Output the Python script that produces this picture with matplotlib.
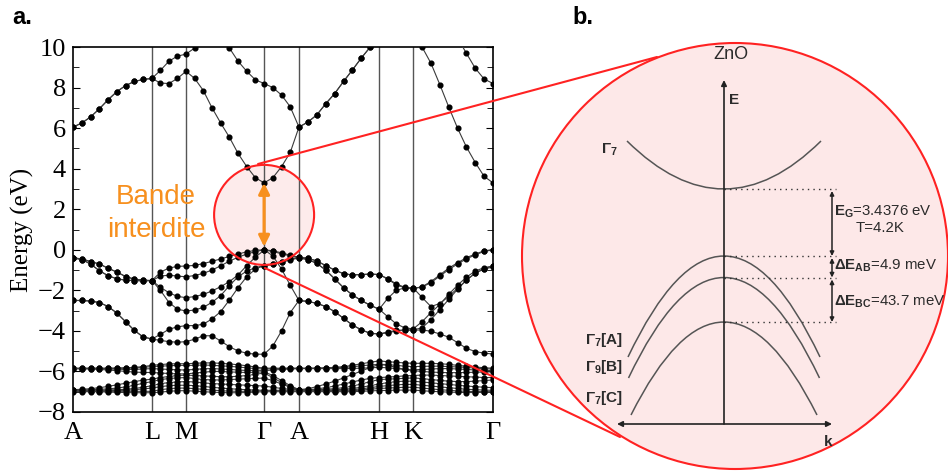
import numpy as np
import matplotlib
matplotlib.use("Agg")
import matplotlib.pyplot as plt
from matplotlib.patches import Ellipse, Circle, PathPatch, ConnectionPatch
from matplotlib.path import Path

plt.rcParams['font.family'] = 'Liberation Serif'
plt.rcParams['mathtext.fontset'] = 'custom'
plt.rcParams['mathtext.rm'] = 'Liberation Sans'
plt.rcParams['mathtext.bf'] = 'Liberation Sans:bold'
plt.rcParams['mathtext.it'] = 'Liberation Sans:italic'

nan = np.nan

# ---- panel a: high symmetry path ----
sym_labels = ['A', 'L', 'M', 'Γ', 'A', 'H', 'K', 'Γ']
sym_k = [0.0, 0.188, 0.269, 0.455, 0.538, 0.729, 0.810, 1.0]
seg_steps = [9, 4, 9, 4, 9, 4, 9]   # k samples per segment

# band energies (eV) along the path, one value per k sample
# segments: A-L | L-M | M-G | G-A | A-H | H-K | K-G
cb1 = [6.05, 6.25, 6.55, 6.95, 7.40, 7.80, 8.10, 8.30, 8.40, 8.45,
       8.22, 8.20, 8.45, 8.80,
       8.45, 7.85, 7.00, 6.25, 5.55, 4.75, 4.10, 3.55, 3.30,
       3.55, 4.10, 4.80, 6.05,
       6.30, 6.65, 7.20, 7.70, 8.30, 8.87, 9.46, 10.00, 10.60,
       nan, nan, nan, 10.90,
       10.00, 9.20, 8.15, 7.05, 6.00, 5.07, 4.30, 3.62, 3.30]
cb2 = [6.05, 6.25, 6.55, 6.95, 7.40, 7.80, 8.10, 8.30, 8.40, 8.45,
       8.85, 9.30, 9.55, 9.65,
       9.95, 10.30, nan, nan, nan, nan, nan, nan, nan,
       nan, nan, nan, nan,
       nan, nan, nan, nan, nan, nan, nan, nan, nan,
       nan, nan, nan, nan,
       nan, nan, nan, nan, nan, nan, nan, nan, nan]
cb3 = [nan, nan, nan, nan, nan, nan, nan, nan, nan, nan,
       nan, nan, nan, nan,
       nan, nan, nan, 10.40, 9.95, 9.30, 8.80, 8.38, 8.20,
       8.00, 7.63, 7.05, 6.05,
       6.30, 6.65, 7.20, 7.70, 8.30, 8.87, 9.46, 10.00, 10.60,
       nan, nan, nan, nan,
       nan, nan, nan, 10.80, 10.45, 9.69, 8.95, 8.42, 8.20]

vb1 = [-0.40, -0.45, -0.58, -0.70, -0.91, -1.10, -1.32, -1.45, -1.50, -1.52,
       -1.10, -0.90, -0.82, -0.80,
       -0.77, -0.68, -0.57, -0.45, -0.33, -0.21, -0.10, -0.03, 0.00,
       -0.05, -0.15, -0.27, -0.37,
       -0.42, -0.55, -0.78, -1.00, -1.18, -1.24, -1.22, -1.20, -1.22,
       -1.45, -1.72, -1.88, -1.92,
       -1.82, -1.57, -1.24, -0.91, -0.64, -0.39, -0.21, -0.05, 0.00]
vb2 = [-0.40, -0.45, -0.58, -0.70, -0.91, -1.10, -1.32, -1.45, -1.50, -1.52,
       -1.30, -1.25, -1.30, -1.33,
       -1.27, -1.16, -1.00, -0.79, -0.56, -0.37, -0.21, -0.09, 0.00,
       -0.30, -0.95, -1.75, -2.50,
       -2.55, -2.64, -2.80, -3.05, -3.38, -3.71, -3.95, -4.12, -4.15,
       -4.10, -4.00, -3.95, -3.95,
       -3.85, -3.45, -2.95, -2.45, -1.95, -1.50, -1.15, -0.95, -0.85]
vb3 = [-0.40, -0.48, -0.70, -1.03, -1.28, -1.43, -1.50, -1.52, -1.53, -1.52,
       -1.85, -2.12, -2.30, -2.36,
       -2.31, -2.20, -2.03, -1.82, -1.57, -1.24, -0.78, -0.36, -0.02,
       -0.08, -0.20, -0.30, -0.40,
       -0.48, -0.67, -1.00, -1.43, -1.87, -2.23, -2.50, -2.74, -2.93,
       -2.40, -2.00, -1.88, -1.88,
       -2.35, -2.80, -2.65, -2.30, -1.90, -1.50, -1.15, -0.93, -0.80]
vb4 = [-0.40, -0.48, -0.70, -1.03, -1.28, -1.43, -1.50, -1.52, -1.53, -1.52,
       -2.00, -2.60, -2.93, -3.02,
       -2.97, -2.84, -2.59, -2.26, -1.77, -1.33, -1.05, -0.88, -0.78,
       -0.72, -0.62, -0.50, -0.40,
       -0.48, -0.67, -1.00, -1.43, -1.87, -2.23, -2.50, -2.74, -2.93,
       -3.30, -3.65, -3.85, -3.90,
       -3.55, -3.10, -2.70, -2.20, -1.75, -1.35, -1.05, -0.88, -0.80]
vb5 = [-2.50, -2.50, -2.53, -2.60, -2.80, -3.12, -3.55, -3.98, -4.30, -4.40,
       -4.17, -3.92, -3.80, -3.74,
       -3.74, -3.67, -3.41, -3.05, -2.48, -1.87, -1.33, -0.95, -0.78,
       -0.70, -0.58, -0.47, -0.37,
       -0.42, -0.55, -0.78, -1.00, -1.18, -1.24, -1.22, -1.20, -1.22,
       -1.42, -1.68, -1.85, -1.90,
       -1.84, -1.62, -1.30, -0.98, -0.70, -0.45, -0.25, -0.08, 0.00]
vb6 = [-2.50, -2.50, -2.53, -2.60, -2.80, -3.12, -3.55, -3.98, -4.30, -4.40,
       -4.47, -4.53, -4.56, -4.53,
       -4.41, -4.24, -4.24, -4.50, -4.78, -4.99, -5.10, -5.15, -5.15,
       -4.75, -4.00, -3.10, -2.50,
       -2.55, -2.64, -2.80, -3.05, -3.38, -3.71, -3.95, -4.12, -4.15,
       -4.05, -3.98, -3.96, -3.97,
       -3.95, -4.02, -4.15, -4.31, -4.58, -4.86, -5.02, -5.10, -5.14]

# Zn 3d bands
d1 = [-5.84, -5.84, -5.84, -5.84, -5.84, -5.83, -5.82, -5.80, -5.76, -5.70,
      -5.66, -5.63, -5.62, -5.62,
      -5.60, -5.58, -5.58, -5.60, -5.63, -5.67, -5.72, -5.78, -5.84,
      -5.84, -5.84, -5.84, -5.84,
      -5.84, -5.83, -5.82, -5.80, -5.76, -5.70, -5.62, -5.55, -5.48,
      -5.52, -5.55, -5.58, -5.60,
      -5.60, -5.60, -5.62, -5.65, -5.70, -5.74, -5.78, -5.82, -5.84]
d2 = [-5.85, -5.85, -5.85, -5.85, -5.85, -5.85, -5.84, -5.83, -5.80, -5.76,
      -5.74, -5.72, -5.70, -5.70,
      -5.70, -5.68, -5.70, -5.72, -5.75, -5.78, -5.82, -5.86, -5.88,
      -5.87, -5.86, -5.85, -5.85,
      -5.85, -5.85, -5.84, -5.83, -5.80, -5.77, -5.72, -5.68, -5.65,
      -5.66, -5.70, -5.74, -5.76,
      -5.75, -5.74, -5.74, -5.76, -5.78, -5.80, -5.84, -5.87, -5.88]
d3 = [-5.86, -5.86, -5.86, -5.87, -5.88, -5.89, -5.90, -5.90, -5.88, -5.86,
      -5.88, -5.90, -5.92, -5.93,
      -5.90, -5.87, -5.86, -5.88, -5.90, -5.93, -5.95, -5.96, -5.96,
      -5.93, -5.90, -5.88, -5.86,
      -5.86, -5.86, -5.86, -5.86, -5.86, -5.85, -5.84, -5.82, -5.80,
      -5.82, -5.86, -5.90, -5.92,
      -5.90, -5.88, -5.86, -5.86, -5.88, -5.90, -5.93, -5.95, -5.96]
d4 = [-5.87, -5.87, -5.88, -5.90, -5.93, -5.96, -6.00, -6.03, -6.05, -6.05,
      -6.08, -6.10, -6.12, -6.12,
      -6.08, -6.04, -6.00, -6.00, -6.02, -6.04, -6.05, -6.04, -6.02,
      -6.20, -6.45, -6.70, -6.90,
      -6.85, -6.75, -6.62, -6.48, -6.32, -6.15, -5.98, -5.80, -5.66,
      -5.70, -5.80, -5.90, -5.96,
      -6.00, -6.03, -6.05, -6.06, -6.06, -6.05, -6.04, -6.03, -6.02]
d5 = [-6.90, -6.88, -6.85, -6.80, -6.74, -6.66, -6.58, -6.50, -6.43, -6.38,
      -6.30, -6.25, -6.20, -6.18,
      -6.20, -6.22, -6.24, -6.26, -6.26, -6.24, -6.20, -6.14, -6.08,
      -6.30, -6.55, -6.75, -6.90,
      -6.90, -6.86, -6.80, -6.72, -6.62, -6.52, -6.42, -6.34, -6.30,
      -6.28, -6.25, -6.22, -6.20,
      -6.18, -6.18, -6.20, -6.22, -6.24, -6.26, -6.28, -6.30, -6.30]
d6 = [-6.92, -6.92, -6.90, -6.88, -6.86, -6.82, -6.76, -6.68, -6.58, -6.50,
      -6.40, -6.35, -6.32, -6.30,
      -6.35, -6.40, -6.42, -6.42, -6.40, -6.38, -6.36, -6.34, -6.33,
      -6.45, -6.62, -6.78, -6.90,
      -6.90, -6.90, -6.88, -6.85, -6.80, -6.72, -6.62, -6.50, -6.40,
      -6.38, -6.36, -6.34, -6.32,
      -6.35, -6.40, -6.44, -6.48, -6.50, -6.50, -6.48, -6.45, -6.42]
d7 = [-6.92, -6.92, -6.92, -6.92, -6.91, -6.90, -6.88, -6.84, -6.78, -6.70,
      -6.60, -6.55, -6.52, -6.50,
      -6.52, -6.56, -6.60, -6.62, -6.64, -6.66, -6.68, -6.70, -6.72,
      -6.78, -6.84, -6.88, -6.90,
      -6.92, -6.92, -6.92, -6.90, -6.88, -6.84, -6.78, -6.70, -6.62,
      -6.55, -6.50, -6.48, -6.48,
      -6.52, -6.56, -6.60, -6.64, -6.68, -6.72, -6.75, -6.78, -6.80]
d8 = [-6.95, -6.95, -6.95, -6.95, -6.95, -6.94, -6.93, -6.90, -6.86, -6.82,
      -6.75, -6.70, -6.68, -6.68,
      -6.70, -6.74, -6.78, -6.82, -6.85, -6.88, -6.90, -6.92, -6.93,
      -6.93, -6.93, -6.92, -6.92,
      -6.95, -6.95, -6.95, -6.94, -6.93, -6.90, -6.86, -6.80, -6.74,
      -6.70, -6.66, -6.64, -6.64,
      -6.68, -6.72, -6.76, -6.80, -6.84, -6.88, -6.90, -6.92, -6.93]
d9 = [-6.98, -6.98, -6.98, -6.98, -6.98, -6.98, -6.98, -6.98, -6.98, -6.98,
      -6.90, -6.85, -6.82, -6.82,
      -6.85, -6.88, -6.92, -6.95, -6.97, -6.98, -6.98, -6.97, -6.96,
      -6.96, -6.96, -6.97, -6.97,
      -6.98, -6.98, -6.98, -6.98, -6.97, -6.95, -6.92, -6.88, -6.84,
      -6.82, -6.80, -6.78, -6.78,
      -6.82, -6.86, -6.90, -6.93, -6.96, -6.98, -6.99, -7.00, -7.00]
d10 = [-7.00, -7.00, -7.00, -7.00, -7.02, -7.03, -7.04, -7.05, -7.05, -7.05,
       -7.02, -6.98, -6.95, -6.95,
       -6.97, -7.00, -7.02, -7.04, -7.05, -7.05, -7.04, -7.02, -7.00,
       -7.00, -7.00, -7.00, -7.00,
       -7.00, -7.00, -7.00, -7.00, -7.00, -7.00, -6.98, -6.96, -6.94,
       -6.94, -6.92, -6.92, -6.92,
       -6.95, -6.98, -7.00, -7.02, -7.03, -7.04, -7.04, -7.03, -7.02]

bands = [cb1, cb2, cb3, vb1, vb2, vb3, vb4, vb5, vb6,
         d1, d2, d3, d4, d5, d6, d7, d8, d9, d10]

# gap arrow (eV) and zoom circle on panel a
gap_top, gap_bottom = 3.30, 0.15
zoom_center_E = 1.72
zoom_radius_px = 50
# connecting lines: (k, E) on panel a -> (k, E) on panel b
link_a = [(0.4405, 4.23), (0.457, -0.90)]
link_b = [(-0.67, 3.67), (-1.04, -0.13)]

# ---- panel b: schematic (arbitrary units) ----
inset_vertex = [2.35, 1.68, 1.465, 1.02]     # Gamma7 (CB), A, B, C
inset_edge = [2.83, 0.67, 0.46, 0.09]
inset_halfwidth = [0.97, 0.96, 0.955, 0.93]
inset_labels = [r'$\mathbf{\Gamma}_{\mathbf{7}}$[A]', r'$\mathbf{\Gamma}_{\mathbf{9}}$[B]',
                r'$\mathbf{\Gamma}_{\mathbf{7}}$[C]']
inset_label_E = [0.84, 0.57, 0.26]
split_texts = [r'$\mathbf{E}_{\mathbf{G}}$=3.4376 eV', r'$\mathbf{\Delta E}_{\mathbf{AB}}$=4.9 meV',
               r'$\mathbf{\Delta E}_{\mathbf{BC}}$=43.7 meV']
split_text_E = [2.12, 1.58, 1.22]

orange = '#F7901E'
red = '#FF2222'
pink = '#FDE8E8'

# build k grid
k = [sym_k[0]]
for i, n in enumerate(seg_steps):
    k += list(np.linspace(sym_k[i], sym_k[i + 1], n + 1)[1:])
k = np.array(k)

fig = plt.figure(figsize=(9.48, 4.75), dpi=100)
ax = fig.add_axes([73 / 948, 63 / 475, 420 / 948, 365 / 475])

for b in bands:
    ax.plot(k, b, '-', color='#3a3a3a', lw=0.8, marker='o', ms=3.4,
            mfc='black', mec='black', zorder=3)

for x in sym_k[1:-1]:
    ax.axvline(x, color='#555555', lw=1.0, zorder=1)

ax.set_xlim(0, 1)
ax.set_ylim(-8, 10)
ax.set_xticks(sym_k)
ax.set_xticklabels(sym_labels, fontsize=19)
ax.tick_params(axis='x', length=0, pad=7)
ax.set_yticks(range(-8, 11, 2))
ax.set_yticks(range(-8, 11, 1), minor=True)
ax.tick_params(axis='y', which='both', direction='in', right=True, labelsize=19, pad=5)
ax.tick_params(axis='y', which='major', length=5)
ax.tick_params(axis='y', which='minor', length=4)
for s in ax.spines.values():
    s.set_linewidth(1.2)
ax.set_ylabel('Energy (eV)', fontsize=18)
ax.yaxis.set_label_coords(-0.093, 0.5)

# zoom circle (true circle in pixels)
gamma = sym_k[3]
w = 2 * zoom_radius_px / 420
h = 2 * zoom_radius_px / (365 / 18)
ax.add_patch(Ellipse((gamma, zoom_center_E), w, h, fc=pink, ec='none', alpha=0.85, zorder=0.5))
ax.add_patch(Ellipse((gamma, zoom_center_E), w, h, fc='none', ec=red, lw=1.5, zorder=4))

ax.annotate('', xy=(gamma, gap_bottom), xytext=(gamma, gap_top),
            arrowprops=dict(arrowstyle='<|-|>', color=orange, lw=2.3,
                            mutation_scale=16, shrinkA=0, shrinkB=0), zorder=5)
ax.text(0.198, 1.81, 'Bande\ninterdite', ha='center', va='center', color=orange,
        fontsize=20, family='Liberation Sans', linespacing=1.35, zorder=5)

# ---- panel b ----
axb = fig.add_axes([520 / 948, 0, 428 / 948, 439 / 475])
axb.set_xlim(-2.04, 2.24)
axb.set_ylim(-0.51, 3.88)
axb.axis('off')

axb.add_patch(Circle((0.11, 1.68), 2.13, fc=pink, ec=red, lw=1.5, clip_on=False, zorder=0))

ink = '#2b2b2b'
for v, e, hw in zip(inset_vertex, inset_edge, inset_halfwidth):
    path = Path([(-hw, e), (0, 2 * v - e), (hw, e)], [Path.MOVETO, Path.CURVE3, Path.CURVE3])
    axb.add_patch(PathPatch(path, fc='none', ec='#555555', lw=1.1, zorder=2))
    axb.plot([0, 1.12], [v, v], ls=(0, (1, 3)), color='#333333', lw=1.0, zorder=2)

axb.annotate('', xy=(0, 3.44), xytext=(0, 0),
             arrowprops=dict(arrowstyle='-|>', color='#222222', lw=1.2,
                             mutation_scale=8, shrinkA=0, shrinkB=0))
axb.annotate('', xy=(1.08, 0), xytext=(-1.07, 0),
             arrowprops=dict(arrowstyle='<|-|>', color='#222222', lw=1.2,
                             mutation_scale=8, shrinkA=0, shrinkB=0))
for top, bot in zip(inset_vertex[:-1], inset_vertex[1:]):
    axb.annotate('', xy=(1.08, top - 0.02), xytext=(1.08, bot),
                 arrowprops=dict(arrowstyle='<|-|>', color='#222222', lw=1.1,
                                 mutation_scale=6, shrinkA=0, shrinkB=0))

sans = 'Liberation Sans'
axb.text(0.07, 3.69, 'ZnO', ha='center', va='center', fontsize=13, color=ink, family=sans)
axb.text(0.05, 3.24, 'E', ha='left', va='center', fontsize=11, color=ink, family=sans, weight='bold')
axb.text(1.04, -0.18, 'k', ha='center', va='center', fontsize=11, color=ink, family=sans, weight='bold')
axb.text(-1.06, 2.74, r'$\mathbf{\Gamma}_{\mathbf{7}}$', ha='right', va='center', fontsize=11, color=ink)
for lab, e in zip(inset_labels, inset_label_E):
    axb.text(-1.01, e, lab, ha='right', va='center', fontsize=11, color=ink,
             family=sans, weight='bold')
for t, e in zip(split_texts, split_text_E):
    axb.text(1.10, e, t, ha='left', va='center', fontsize=10.8, color=ink, family=sans)
axb.text(1.56, 1.96, 'T=4.2K', ha='center', va='center', fontsize=10.8, color=ink, family=sans)

for pa, pb in zip(link_a, link_b):
    con = ConnectionPatch(xyA=pa, coordsA=ax.transData, xyB=pb, coordsB=axb.transData,
                          color=red, lw=1.5, zorder=6)
    fig.add_artist(con)

fig.text(12 / 948, 1 - 17 / 475, 'a.', fontsize=17, weight='bold', family=sans, va='center')
fig.text(572 / 948, 1 - 18 / 475, 'b.', fontsize=17, weight='bold', family=sans, va='center')

fig.savefig('out.png', dpi=100)
